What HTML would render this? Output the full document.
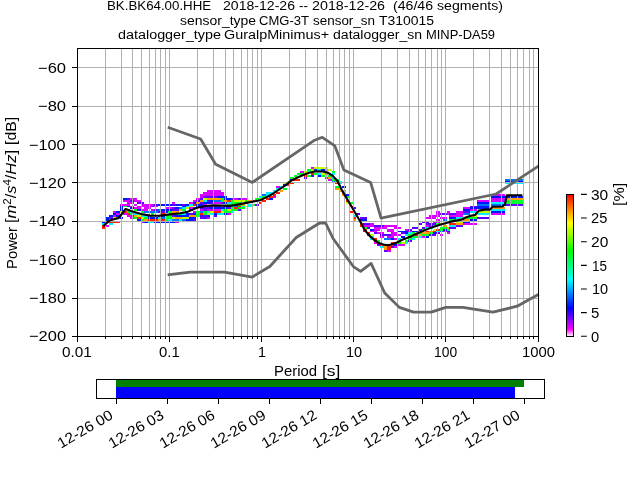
<!DOCTYPE html>
<html><head><meta charset="utf-8"><title>PPSD</title>
<style>html,body{margin:0;padding:0;background:#fff;width:640px;height:480px;overflow:hidden}
svg{display:block} text{font-family:"Liberation Sans",sans-serif;fill:#000}</style></head>
<body><svg style="will-change:transform" width="640" height="480" viewBox="0 0 640 480">
<rect width="640" height="480" fill="#fff"/>
<g shape-rendering="crispEdges"><rect x="123" y="198" width="4" height="2" fill="#0016ff"/><rect x="127" y="198" width="3" height="2" fill="#5e00ff"/><rect x="130" y="198" width="7" height="2" fill="#d900ff"/><rect x="196" y="198" width="4" height="2" fill="#d900ff"/><rect x="200" y="198" width="3" height="2" fill="#5e00ff"/><rect x="203" y="198" width="4" height="2" fill="#c8ff00"/><rect x="207" y="198" width="14" height="2" fill="#ffa000"/><rect x="221" y="198" width="3" height="2" fill="#00ff28"/><rect x="224" y="198" width="7" height="2" fill="#0016ff"/><rect x="231" y="198" width="3" height="2" fill="#5e00ff"/><rect x="234" y="198" width="4" height="2" fill="#d900ff"/><rect x="238" y="198" width="3" height="2" fill="#5e00ff"/><rect x="241" y="198" width="7" height="2" fill="#d900ff"/><rect x="255" y="198" width="4" height="2" fill="#00ff28"/><rect x="259" y="198" width="3" height="2" fill="#c8ff00"/><rect x="266" y="198" width="3" height="2" fill="#ff1e00"/><rect x="269" y="198" width="4" height="2" fill="#0016ff"/><rect x="123" y="200" width="7" height="2" fill="#d900ff"/><rect x="130" y="200" width="4" height="2" fill="#5e00ff"/><rect x="134" y="200" width="7" height="2" fill="#d900ff"/><rect x="193" y="200" width="3" height="2" fill="#d900ff"/><rect x="196" y="200" width="4" height="2" fill="#5e00ff"/><rect x="200" y="200" width="3" height="2" fill="#ffa000"/><rect x="203" y="200" width="4" height="2" fill="#00f0ff"/><rect x="207" y="200" width="3" height="2" fill="#5e00ff"/><rect x="210" y="200" width="4" height="2" fill="#0016ff"/><rect x="214" y="200" width="7" height="2" fill="#0073ff"/><rect x="221" y="200" width="3" height="2" fill="#00ff28"/><rect x="224" y="200" width="3" height="2" fill="#ffa000"/><rect x="227" y="200" width="4" height="2" fill="#ff1e00"/><rect x="231" y="200" width="3" height="2" fill="#00ff28"/><rect x="234" y="200" width="11" height="2" fill="#c8ff00"/><rect x="245" y="200" width="3" height="2" fill="#00ff28"/><rect x="248" y="200" width="4" height="2" fill="#ffa000"/><rect x="252" y="200" width="3" height="2" fill="#ff1e00"/><rect x="262" y="200" width="4" height="2" fill="#ff1e00"/><rect x="346" y="200" width="3" height="2" fill="#ff1e00"/><rect x="127" y="202" width="7" height="2" fill="#d900ff"/><rect x="137" y="202" width="7" height="2" fill="#5e00ff"/><rect x="172" y="202" width="3" height="2" fill="#d900ff"/><rect x="189" y="202" width="4" height="2" fill="#d900ff"/><rect x="193" y="202" width="3" height="2" fill="#0016ff"/><rect x="196" y="202" width="4" height="2" fill="#ffa000"/><rect x="200" y="202" width="3" height="2" fill="#5e00ff"/><rect x="203" y="202" width="7" height="2" fill="#0016ff"/><rect x="210" y="202" width="4" height="2" fill="#5e00ff"/><rect x="214" y="202" width="7" height="2" fill="#d900ff"/><rect x="221" y="202" width="3" height="2" fill="#5e00ff"/><rect x="224" y="202" width="3" height="2" fill="#0016ff"/><rect x="227" y="202" width="4" height="2" fill="#00f0ff"/><rect x="231" y="202" width="10" height="2" fill="#00ff28"/><rect x="259" y="202" width="3" height="2" fill="#ff1e00"/><rect x="346" y="202" width="3" height="2" fill="#c8ff00"/><rect x="349" y="202" width="4" height="2" fill="#00ff28"/><rect x="120" y="204" width="10" height="2" fill="#d900ff"/><rect x="134" y="204" width="3" height="2" fill="#d900ff"/><rect x="141" y="204" width="13" height="2" fill="#d900ff"/><rect x="154" y="204" width="4" height="2" fill="#5e00ff"/><rect x="158" y="204" width="14" height="2" fill="#0016ff"/><rect x="172" y="204" width="3" height="2" fill="#5e00ff"/><rect x="175" y="204" width="7" height="2" fill="#0016ff"/><rect x="182" y="204" width="4" height="2" fill="#5e00ff"/><rect x="186" y="204" width="3" height="2" fill="#0016ff"/><rect x="189" y="204" width="4" height="2" fill="#00f0ff"/><rect x="193" y="204" width="3" height="2" fill="#ff1e00"/><rect x="196" y="204" width="7" height="2" fill="#0016ff"/><rect x="203" y="204" width="4" height="2" fill="#d900ff"/><rect x="227" y="204" width="7" height="2" fill="#00ff28"/><rect x="234" y="204" width="4" height="2" fill="#0016ff"/><rect x="238" y="204" width="3" height="2" fill="#00ff28"/><rect x="241" y="204" width="4" height="2" fill="#ffa000"/><rect x="248" y="204" width="4" height="2" fill="#00f0ff"/><rect x="252" y="204" width="3" height="2" fill="#00ff28"/><rect x="255" y="204" width="4" height="2" fill="#5e00ff"/><rect x="120" y="206" width="3" height="1" fill="#0016ff"/><rect x="123" y="206" width="4" height="1" fill="#00ff28"/><rect x="127" y="206" width="3" height="1" fill="#0016ff"/><rect x="130" y="206" width="4" height="1" fill="#d900ff"/><rect x="137" y="206" width="14" height="1" fill="#d900ff"/><rect x="151" y="206" width="3" height="1" fill="#5e00ff"/><rect x="154" y="206" width="4" height="1" fill="#d900ff"/><rect x="182" y="206" width="4" height="1" fill="#0016ff"/><rect x="186" y="206" width="3" height="1" fill="#00f0ff"/><rect x="189" y="206" width="4" height="1" fill="#c8ff00"/><rect x="196" y="206" width="4" height="1" fill="#0016ff"/><rect x="207" y="206" width="14" height="1" fill="#d900ff"/><rect x="224" y="206" width="3" height="1" fill="#0016ff"/><rect x="227" y="206" width="4" height="1" fill="#5e00ff"/><rect x="231" y="206" width="3" height="1" fill="#00ff28"/><rect x="234" y="206" width="4" height="1" fill="#0073ff"/><rect x="238" y="206" width="3" height="1" fill="#ff1e00"/><rect x="241" y="206" width="4" height="1" fill="#00f0ff"/><rect x="245" y="206" width="3" height="1" fill="#c8ff00"/><rect x="248" y="206" width="4" height="1" fill="#00f0ff"/><rect x="349" y="206" width="4" height="1" fill="#ff1e00"/><rect x="120" y="207" width="3" height="2" fill="#0016ff"/><rect x="130" y="207" width="4" height="2" fill="#0016ff"/><rect x="134" y="207" width="7" height="2" fill="#d900ff"/><rect x="144" y="207" width="7" height="2" fill="#d900ff"/><rect x="165" y="207" width="7" height="2" fill="#d900ff"/><rect x="172" y="207" width="3" height="2" fill="#5e00ff"/><rect x="175" y="207" width="4" height="2" fill="#0016ff"/><rect x="179" y="207" width="3" height="2" fill="#0073ff"/><rect x="182" y="207" width="4" height="2" fill="#00f0ff"/><rect x="186" y="207" width="3" height="2" fill="#c8ff00"/><rect x="189" y="207" width="4" height="2" fill="#d900ff"/><rect x="193" y="207" width="3" height="2" fill="#0016ff"/><rect x="200" y="207" width="10" height="2" fill="#5e00ff"/><rect x="210" y="207" width="17" height="2" fill="#0016ff"/><rect x="227" y="207" width="4" height="2" fill="#5e00ff"/><rect x="231" y="207" width="3" height="2" fill="#00ff28"/><rect x="234" y="207" width="4" height="2" fill="#ff1e00"/><rect x="238" y="207" width="7" height="2" fill="#00ff28"/><rect x="353" y="207" width="3" height="2" fill="#5e00ff"/><rect x="120" y="209" width="3" height="2" fill="#0016ff"/><rect x="127" y="209" width="3" height="2" fill="#00ff28"/><rect x="134" y="209" width="3" height="2" fill="#00ff28"/><rect x="137" y="209" width="4" height="2" fill="#0016ff"/><rect x="141" y="209" width="7" height="2" fill="#d900ff"/><rect x="151" y="209" width="3" height="2" fill="#d900ff"/><rect x="154" y="209" width="4" height="2" fill="#5e00ff"/><rect x="158" y="209" width="3" height="2" fill="#0073ff"/><rect x="161" y="209" width="11" height="2" fill="#0016ff"/><rect x="172" y="209" width="7" height="2" fill="#5e00ff"/><rect x="179" y="209" width="3" height="2" fill="#ffa000"/><rect x="182" y="209" width="4" height="2" fill="#00ff28"/><rect x="189" y="209" width="4" height="2" fill="#0016ff"/><rect x="200" y="209" width="3" height="2" fill="#d900ff"/><rect x="203" y="209" width="4" height="2" fill="#5e00ff"/><rect x="207" y="209" width="14" height="2" fill="#d900ff"/><rect x="221" y="209" width="3" height="2" fill="#00f0ff"/><rect x="224" y="209" width="3" height="2" fill="#00ff28"/><rect x="227" y="209" width="4" height="2" fill="#c8ff00"/><rect x="231" y="209" width="7" height="2" fill="#00ff28"/><rect x="238" y="209" width="3" height="2" fill="#5e00ff"/><rect x="113" y="211" width="3" height="2" fill="#d900ff"/><rect x="116" y="211" width="4" height="2" fill="#0016ff"/><rect x="120" y="211" width="3" height="2" fill="#c8ff00"/><rect x="123" y="211" width="4" height="2" fill="#ff1e00"/><rect x="127" y="211" width="3" height="2" fill="#00ff28"/><rect x="130" y="211" width="4" height="2" fill="#00f0ff"/><rect x="141" y="211" width="3" height="2" fill="#00ff28"/><rect x="144" y="211" width="14" height="2" fill="#0073ff"/><rect x="158" y="211" width="7" height="2" fill="#5e00ff"/><rect x="165" y="211" width="3" height="2" fill="#0016ff"/><rect x="168" y="211" width="4" height="2" fill="#00ff28"/><rect x="172" y="211" width="7" height="2" fill="#ffa000"/><rect x="193" y="211" width="3" height="2" fill="#d900ff"/><rect x="196" y="211" width="4" height="2" fill="#00ff28"/><rect x="200" y="211" width="3" height="2" fill="#0073ff"/><rect x="203" y="211" width="4" height="2" fill="#00ff28"/><rect x="207" y="211" width="3" height="2" fill="#00f0ff"/><rect x="210" y="211" width="4" height="2" fill="#c8ff00"/><rect x="214" y="211" width="7" height="2" fill="#ff1e00"/><rect x="221" y="211" width="3" height="2" fill="#c8ff00"/><rect x="224" y="211" width="7" height="2" fill="#00ff28"/><rect x="231" y="211" width="3" height="2" fill="#00f0ff"/><rect x="349" y="211" width="4" height="2" fill="#ff1e00"/><rect x="436" y="211" width="4" height="2" fill="#d900ff"/><rect x="447" y="211" width="3" height="2" fill="#d900ff"/><rect x="113" y="213" width="3" height="2" fill="#0016ff"/><rect x="116" y="213" width="4" height="2" fill="#d900ff"/><rect x="123" y="213" width="4" height="2" fill="#d900ff"/><rect x="127" y="213" width="3" height="2" fill="#ff1e00"/><rect x="130" y="213" width="4" height="2" fill="#00ff28"/><rect x="134" y="213" width="7" height="2" fill="#00f0ff"/><rect x="151" y="213" width="3" height="2" fill="#00ff28"/><rect x="161" y="213" width="4" height="2" fill="#ff1e00"/><rect x="175" y="213" width="7" height="2" fill="#00ff28"/><rect x="182" y="213" width="4" height="2" fill="#00f0ff"/><rect x="186" y="213" width="3" height="2" fill="#0016ff"/><rect x="189" y="213" width="4" height="2" fill="#5e00ff"/><rect x="193" y="213" width="3" height="2" fill="#0016ff"/><rect x="196" y="213" width="4" height="2" fill="#00ff28"/><rect x="200" y="213" width="3" height="2" fill="#ff1e00"/><rect x="203" y="213" width="4" height="2" fill="#00ff28"/><rect x="207" y="213" width="3" height="2" fill="#c8ff00"/><rect x="210" y="213" width="4" height="2" fill="#00f0ff"/><rect x="214" y="213" width="3" height="2" fill="#0016ff"/><rect x="217" y="213" width="7" height="2" fill="#00f0ff"/><rect x="224" y="213" width="3" height="2" fill="#0016ff"/><rect x="227" y="213" width="4" height="2" fill="#d900ff"/><rect x="356" y="213" width="4" height="2" fill="#5e00ff"/><rect x="436" y="213" width="4" height="2" fill="#d900ff"/><rect x="440" y="213" width="7" height="2" fill="#5e00ff"/><rect x="447" y="213" width="3" height="2" fill="#d900ff"/><rect x="109" y="215" width="4" height="2" fill="#0016ff"/><rect x="113" y="215" width="3" height="2" fill="#d900ff"/><rect x="116" y="215" width="4" height="2" fill="#0016ff"/><rect x="127" y="215" width="7" height="2" fill="#d900ff"/><rect x="134" y="215" width="3" height="2" fill="#ffa000"/><rect x="137" y="215" width="4" height="2" fill="#c8ff00"/><rect x="141" y="215" width="7" height="2" fill="#00f0ff"/><rect x="148" y="215" width="3" height="2" fill="#0016ff"/><rect x="158" y="215" width="7" height="2" fill="#0016ff"/><rect x="165" y="215" width="7" height="2" fill="#00ff28"/><rect x="172" y="215" width="3" height="2" fill="#5e00ff"/><rect x="175" y="215" width="14" height="2" fill="#0016ff"/><rect x="189" y="215" width="7" height="2" fill="#ffa000"/><rect x="196" y="215" width="4" height="2" fill="#00ff28"/><rect x="200" y="215" width="7" height="2" fill="#5e00ff"/><rect x="207" y="215" width="3" height="2" fill="#0016ff"/><rect x="214" y="215" width="3" height="2" fill="#5e00ff"/><rect x="353" y="215" width="3" height="2" fill="#00f0ff"/><rect x="429" y="215" width="11" height="2" fill="#d900ff"/><rect x="106" y="217" width="3" height="2" fill="#0016ff"/><rect x="109" y="217" width="4" height="2" fill="#5e00ff"/><rect x="113" y="217" width="3" height="2" fill="#c8ff00"/><rect x="116" y="217" width="4" height="2" fill="#ffa000"/><rect x="120" y="217" width="3" height="2" fill="#0016ff"/><rect x="130" y="217" width="4" height="2" fill="#d900ff"/><rect x="134" y="217" width="3" height="2" fill="#00ff28"/><rect x="137" y="217" width="4" height="2" fill="#ff1e00"/><rect x="141" y="217" width="3" height="2" fill="#c8ff00"/><rect x="144" y="217" width="4" height="2" fill="#00ff28"/><rect x="148" y="217" width="10" height="2" fill="#0016ff"/><rect x="158" y="217" width="3" height="2" fill="#00f0ff"/><rect x="161" y="217" width="4" height="2" fill="#0073ff"/><rect x="165" y="217" width="7" height="2" fill="#00ff28"/><rect x="172" y="217" width="3" height="2" fill="#c8ff00"/><rect x="175" y="217" width="7" height="2" fill="#ffa000"/><rect x="182" y="217" width="7" height="2" fill="#c8ff00"/><rect x="189" y="217" width="7" height="2" fill="#0016ff"/><rect x="200" y="217" width="7" height="2" fill="#5e00ff"/><rect x="207" y="217" width="3" height="2" fill="#d900ff"/><rect x="353" y="217" width="3" height="2" fill="#ff1e00"/><rect x="360" y="217" width="7" height="2" fill="#5e00ff"/><rect x="426" y="217" width="10" height="2" fill="#d900ff"/><rect x="440" y="217" width="7" height="2" fill="#d900ff"/><rect x="106" y="219" width="3" height="2" fill="#0016ff"/><rect x="137" y="219" width="4" height="2" fill="#0016ff"/><rect x="141" y="219" width="3" height="2" fill="#00ff28"/><rect x="144" y="219" width="4" height="2" fill="#ffa000"/><rect x="148" y="219" width="10" height="2" fill="#ff1e00"/><rect x="158" y="219" width="3" height="2" fill="#ffa000"/><rect x="161" y="219" width="4" height="2" fill="#ff1e00"/><rect x="165" y="219" width="3" height="2" fill="#00ff28"/><rect x="168" y="219" width="4" height="2" fill="#00f0ff"/><rect x="172" y="219" width="7" height="2" fill="#0073ff"/><rect x="179" y="219" width="3" height="2" fill="#00f0ff"/><rect x="182" y="219" width="4" height="2" fill="#0073ff"/><rect x="186" y="219" width="7" height="2" fill="#0016ff"/><rect x="193" y="219" width="3" height="2" fill="#5e00ff"/><rect x="353" y="219" width="3" height="2" fill="#ffa000"/><rect x="360" y="219" width="7" height="2" fill="#0016ff"/><rect x="436" y="219" width="4" height="2" fill="#d900ff"/><rect x="443" y="219" width="4" height="2" fill="#0073ff"/><rect x="102" y="221" width="4" height="2" fill="#0016ff"/><rect x="109" y="221" width="11" height="2" fill="#ff1e00"/><rect x="141" y="221" width="3" height="2" fill="#d900ff"/><rect x="144" y="221" width="4" height="2" fill="#0016ff"/><rect x="148" y="221" width="6" height="2" fill="#00f0ff"/><rect x="154" y="221" width="21" height="2" fill="#0016ff"/><rect x="175" y="221" width="4" height="2" fill="#d900ff"/><rect x="422" y="221" width="7" height="2" fill="#5e00ff"/><rect x="433" y="221" width="7" height="2" fill="#d900ff"/><rect x="447" y="221" width="3" height="2" fill="#0016ff"/><rect x="102" y="223" width="4" height="2" fill="#00f0ff"/><rect x="109" y="223" width="4" height="2" fill="#00f0ff"/><rect x="360" y="223" width="3" height="2" fill="#ff1e00"/><rect x="363" y="223" width="7" height="2" fill="#5e00ff"/><rect x="370" y="223" width="4" height="2" fill="#d900ff"/><rect x="419" y="223" width="3" height="2" fill="#5e00ff"/><rect x="426" y="223" width="10" height="2" fill="#5e00ff"/><rect x="436" y="223" width="4" height="2" fill="#00ff28"/><rect x="440" y="223" width="3" height="2" fill="#c8ff00"/><rect x="102" y="225" width="4" height="2" fill="#ff1e00"/><rect x="106" y="225" width="3" height="2" fill="#d900ff"/><rect x="360" y="225" width="3" height="2" fill="#ff1e00"/><rect x="363" y="225" width="11" height="2" fill="#d900ff"/><rect x="374" y="225" width="10" height="2" fill="#5e00ff"/><rect x="384" y="225" width="14" height="2" fill="#d900ff"/><rect x="426" y="225" width="3" height="2" fill="#d900ff"/><rect x="429" y="225" width="4" height="2" fill="#5e00ff"/><rect x="433" y="225" width="3" height="2" fill="#00f0ff"/><rect x="443" y="225" width="4" height="2" fill="#ffa000"/><rect x="102" y="227" width="4" height="2" fill="#ff1e00"/><rect x="363" y="227" width="4" height="2" fill="#00ff28"/><rect x="367" y="227" width="3" height="2" fill="#5e00ff"/><rect x="374" y="227" width="13" height="2" fill="#d900ff"/><rect x="394" y="227" width="7" height="2" fill="#d900ff"/><rect x="412" y="227" width="7" height="2" fill="#5e00ff"/><rect x="422" y="227" width="4" height="2" fill="#5e00ff"/><rect x="426" y="227" width="7" height="2" fill="#00f0ff"/><rect x="440" y="227" width="7" height="2" fill="#00ff28"/><rect x="447" y="227" width="3" height="2" fill="#ffa000"/><rect x="207" y="190" width="14" height="2" fill="#d900ff"/><rect x="273" y="190" width="3" height="2" fill="#00f0ff"/><rect x="280" y="190" width="3" height="2" fill="#ffa000"/><rect x="339" y="190" width="7" height="2" fill="#ffa000"/><rect x="203" y="192" width="21" height="2" fill="#d900ff"/><rect x="266" y="192" width="7" height="2" fill="#00f0ff"/><rect x="276" y="192" width="4" height="2" fill="#ff1e00"/><rect x="342" y="192" width="4" height="2" fill="#ffa000"/><rect x="200" y="194" width="24" height="2" fill="#d900ff"/><rect x="262" y="194" width="4" height="2" fill="#0073ff"/><rect x="266" y="194" width="3" height="2" fill="#00f0ff"/><rect x="273" y="194" width="3" height="2" fill="#ff1e00"/><rect x="342" y="194" width="4" height="2" fill="#ffa000"/><rect x="346" y="194" width="3" height="2" fill="#0016ff"/><rect x="200" y="196" width="3" height="2" fill="#d900ff"/><rect x="203" y="196" width="14" height="2" fill="#5e00ff"/><rect x="217" y="196" width="10" height="2" fill="#0016ff"/><rect x="259" y="196" width="3" height="2" fill="#00f0ff"/><rect x="262" y="196" width="4" height="2" fill="#00ff28"/><rect x="269" y="196" width="4" height="2" fill="#ff1e00"/><rect x="273" y="196" width="3" height="2" fill="#d900ff"/><rect x="346" y="196" width="3" height="2" fill="#00ff28"/><rect x="276" y="186" width="4" height="2" fill="#d900ff"/><rect x="280" y="186" width="3" height="2" fill="#00f0ff"/><rect x="335" y="186" width="4" height="2" fill="#00ff28"/><rect x="342" y="186" width="4" height="2" fill="#0016ff"/><rect x="276" y="188" width="4" height="2" fill="#00f0ff"/><rect x="283" y="188" width="4" height="2" fill="#00ff28"/><rect x="335" y="188" width="4" height="2" fill="#ffa000"/><rect x="339" y="188" width="3" height="2" fill="#00ff28"/><rect x="283" y="182" width="4" height="2" fill="#c8ff00"/><rect x="290" y="182" width="4" height="2" fill="#ff1e00"/><rect x="335" y="182" width="4" height="2" fill="#ff1e00"/><rect x="339" y="182" width="3" height="2" fill="#00f0ff"/><rect x="283" y="184" width="4" height="2" fill="#0016ff"/><rect x="287" y="184" width="3" height="2" fill="#ff1e00"/><rect x="287" y="181" width="3" height="1" fill="#c8ff00"/><rect x="332" y="181" width="3" height="1" fill="#0073ff"/><rect x="335" y="181" width="4" height="1" fill="#00ff28"/><rect x="339" y="181" width="3" height="1" fill="#00f0ff"/><rect x="290" y="177" width="4" height="2" fill="#00ff28"/><rect x="304" y="177" width="3" height="2" fill="#5e00ff"/><rect x="325" y="177" width="3" height="2" fill="#d900ff"/><rect x="328" y="177" width="4" height="2" fill="#ffa000"/><rect x="332" y="177" width="3" height="2" fill="#00f0ff"/><rect x="290" y="179" width="4" height="2" fill="#0016ff"/><rect x="294" y="179" width="6" height="2" fill="#ff1e00"/><rect x="328" y="179" width="4" height="2" fill="#d900ff"/><rect x="332" y="179" width="7" height="2" fill="#00ff28"/><rect x="294" y="175" width="3" height="2" fill="#00ff28"/><rect x="304" y="175" width="3" height="2" fill="#ff1e00"/><rect x="307" y="175" width="4" height="2" fill="#00ff28"/><rect x="311" y="175" width="3" height="2" fill="#0016ff"/><rect x="318" y="175" width="3" height="2" fill="#0016ff"/><rect x="321" y="175" width="4" height="2" fill="#00ff28"/><rect x="325" y="175" width="3" height="2" fill="#c8ff00"/><rect x="328" y="175" width="4" height="2" fill="#00ff28"/><rect x="297" y="173" width="7" height="2" fill="#00ff28"/><rect x="311" y="173" width="3" height="2" fill="#ff1e00"/><rect x="314" y="173" width="4" height="2" fill="#00ff28"/><rect x="318" y="173" width="3" height="2" fill="#00f0ff"/><rect x="321" y="173" width="4" height="2" fill="#c8ff00"/><rect x="325" y="173" width="3" height="2" fill="#00ff28"/><rect x="332" y="173" width="3" height="2" fill="#00f0ff"/><rect x="300" y="171" width="4" height="2" fill="#d900ff"/><rect x="304" y="171" width="3" height="2" fill="#c8ff00"/><rect x="307" y="171" width="4" height="2" fill="#00f0ff"/><rect x="332" y="171" width="3" height="2" fill="#00ff28"/><rect x="307" y="169" width="4" height="2" fill="#00ff28"/><rect x="311" y="169" width="3" height="2" fill="#c8ff00"/><rect x="314" y="169" width="4" height="2" fill="#0016ff"/><rect x="318" y="169" width="3" height="2" fill="#00f0ff"/><rect x="321" y="169" width="4" height="2" fill="#0016ff"/><rect x="325" y="169" width="3" height="2" fill="#00f0ff"/><rect x="328" y="169" width="4" height="2" fill="#c8ff00"/><rect x="311" y="167" width="3" height="2" fill="#d900ff"/><rect x="314" y="167" width="14" height="2" fill="#c8ff00"/><rect x="363" y="229" width="4" height="2" fill="#ff1e00"/><rect x="370" y="229" width="4" height="2" fill="#0016ff"/><rect x="374" y="229" width="6" height="2" fill="#d900ff"/><rect x="387" y="229" width="7" height="2" fill="#d900ff"/><rect x="405" y="229" width="3" height="2" fill="#d900ff"/><rect x="408" y="229" width="4" height="2" fill="#5e00ff"/><rect x="419" y="229" width="3" height="2" fill="#5e00ff"/><rect x="422" y="229" width="4" height="2" fill="#00ff28"/><rect x="433" y="229" width="3" height="2" fill="#c8ff00"/><rect x="436" y="229" width="4" height="2" fill="#ff1e00"/><rect x="440" y="229" width="3" height="2" fill="#00ff28"/><rect x="443" y="229" width="4" height="2" fill="#0016ff"/><rect x="447" y="229" width="3" height="2" fill="#00ff28"/><rect x="363" y="231" width="4" height="1" fill="#ff1e00"/><rect x="370" y="231" width="7" height="1" fill="#d900ff"/><rect x="387" y="231" width="7" height="1" fill="#d900ff"/><rect x="398" y="231" width="10" height="1" fill="#0016ff"/><rect x="408" y="231" width="4" height="1" fill="#d900ff"/><rect x="412" y="231" width="7" height="1" fill="#0016ff"/><rect x="426" y="231" width="3" height="1" fill="#ff1e00"/><rect x="429" y="231" width="4" height="1" fill="#ffa000"/><rect x="433" y="231" width="3" height="1" fill="#ff1e00"/><rect x="436" y="231" width="4" height="1" fill="#00f0ff"/><rect x="440" y="231" width="3" height="1" fill="#0073ff"/><rect x="443" y="231" width="4" height="1" fill="#d900ff"/><rect x="447" y="231" width="3" height="1" fill="#0016ff"/><rect x="367" y="232" width="3" height="2" fill="#ff1e00"/><rect x="374" y="232" width="3" height="2" fill="#5e00ff"/><rect x="377" y="232" width="7" height="2" fill="#d900ff"/><rect x="391" y="232" width="7" height="2" fill="#d900ff"/><rect x="401" y="232" width="4" height="2" fill="#5e00ff"/><rect x="405" y="232" width="3" height="2" fill="#0016ff"/><rect x="408" y="232" width="4" height="2" fill="#00f0ff"/><rect x="412" y="232" width="3" height="2" fill="#00ff28"/><rect x="419" y="232" width="3" height="2" fill="#00ff28"/><rect x="422" y="232" width="7" height="2" fill="#ffa000"/><rect x="429" y="232" width="4" height="2" fill="#00ff28"/><rect x="433" y="232" width="3" height="2" fill="#0016ff"/><rect x="436" y="232" width="4" height="2" fill="#5e00ff"/><rect x="447" y="232" width="3" height="2" fill="#d900ff"/><rect x="367" y="234" width="3" height="2" fill="#ff1e00"/><rect x="370" y="234" width="4" height="2" fill="#c8ff00"/><rect x="380" y="234" width="11" height="2" fill="#5e00ff"/><rect x="391" y="234" width="10" height="2" fill="#d900ff"/><rect x="405" y="234" width="3" height="2" fill="#00f0ff"/><rect x="408" y="234" width="4" height="2" fill="#00ff28"/><rect x="415" y="234" width="4" height="2" fill="#ff1e00"/><rect x="419" y="234" width="3" height="2" fill="#ffa000"/><rect x="422" y="234" width="7" height="2" fill="#00ff28"/><rect x="429" y="234" width="7" height="2" fill="#5e00ff"/><rect x="440" y="234" width="3" height="2" fill="#d900ff"/><rect x="370" y="236" width="4" height="2" fill="#00f0ff"/><rect x="380" y="236" width="4" height="2" fill="#d900ff"/><rect x="387" y="236" width="7" height="2" fill="#d900ff"/><rect x="401" y="236" width="4" height="2" fill="#0016ff"/><rect x="408" y="236" width="4" height="2" fill="#ff1e00"/><rect x="412" y="236" width="7" height="2" fill="#00ff28"/><rect x="419" y="236" width="3" height="2" fill="#00f0ff"/><rect x="422" y="236" width="4" height="2" fill="#d900ff"/><rect x="426" y="236" width="3" height="2" fill="#0016ff"/><rect x="370" y="238" width="4" height="2" fill="#00f0ff"/><rect x="374" y="238" width="3" height="2" fill="#ff1e00"/><rect x="384" y="238" width="7" height="2" fill="#0073ff"/><rect x="391" y="238" width="3" height="2" fill="#0016ff"/><rect x="394" y="238" width="4" height="2" fill="#d900ff"/><rect x="398" y="238" width="3" height="2" fill="#00f0ff"/><rect x="408" y="238" width="4" height="2" fill="#00ff28"/><rect x="412" y="238" width="3" height="2" fill="#00f0ff"/><rect x="374" y="240" width="3" height="2" fill="#ff1e00"/><rect x="377" y="240" width="3" height="2" fill="#00ff28"/><rect x="405" y="240" width="3" height="2" fill="#00ff28"/><rect x="408" y="240" width="4" height="2" fill="#5e00ff"/><rect x="374" y="242" width="3" height="2" fill="#d900ff"/><rect x="377" y="242" width="3" height="2" fill="#ff1e00"/><rect x="391" y="242" width="7" height="2" fill="#ff1e00"/><rect x="398" y="242" width="3" height="2" fill="#00ff28"/><rect x="401" y="242" width="4" height="2" fill="#c8ff00"/><rect x="405" y="242" width="3" height="2" fill="#00f0ff"/><rect x="377" y="244" width="3" height="2" fill="#5e00ff"/><rect x="380" y="244" width="7" height="2" fill="#ff1e00"/><rect x="387" y="244" width="4" height="2" fill="#ffa000"/><rect x="391" y="244" width="3" height="2" fill="#ff1e00"/><rect x="394" y="244" width="4" height="2" fill="#0016ff"/><rect x="398" y="244" width="7" height="2" fill="#d900ff"/><rect x="380" y="246" width="4" height="2" fill="#00f0ff"/><rect x="384" y="246" width="3" height="2" fill="#ffa000"/><rect x="387" y="246" width="4" height="2" fill="#ff1e00"/><rect x="391" y="246" width="3" height="2" fill="#5e00ff"/><rect x="394" y="246" width="4" height="2" fill="#d900ff"/><rect x="384" y="248" width="3" height="2" fill="#ffa000"/><rect x="387" y="248" width="4" height="2" fill="#ff1e00"/><rect x="384" y="250" width="3" height="2" fill="#5e00ff"/><rect x="387" y="250" width="4" height="2" fill="#d900ff"/><rect x="449" y="213" width="7" height="2" fill="#5e00ff"/><rect x="449" y="215" width="7" height="2" fill="#d900ff"/><rect x="449" y="217" width="7" height="2" fill="#0016ff"/><rect x="449" y="219" width="7" height="2" fill="#00ff28"/><rect x="449" y="223" width="7" height="2" fill="#ff1e00"/><rect x="449" y="225" width="7" height="2" fill="#00f0ff"/><rect x="449" y="227" width="7" height="2" fill="#5e00ff"/><rect x="456" y="211" width="7" height="2" fill="#d900ff"/><rect x="456" y="213" width="7" height="2" fill="#d900ff"/><rect x="456" y="215" width="7" height="2" fill="#d900ff"/><rect x="456" y="217" width="7" height="2" fill="#00f0ff"/><rect x="456" y="221" width="7" height="2" fill="#c8ff00"/><rect x="456" y="223" width="7" height="2" fill="#ffa000"/><rect x="456" y="225" width="7" height="2" fill="#5e00ff"/><rect x="463" y="207" width="7" height="2" fill="#d900ff"/><rect x="463" y="209" width="7" height="2" fill="#0016ff"/><rect x="463" y="211" width="7" height="2" fill="#5e00ff"/><rect x="463" y="213" width="7" height="2" fill="#0073ff"/><rect x="463" y="217" width="7" height="2" fill="#00ff28"/><rect x="463" y="219" width="7" height="2" fill="#ffa000"/><rect x="463" y="221" width="7" height="2" fill="#0016ff"/><rect x="463" y="223" width="7" height="2" fill="#d900ff"/><rect x="470" y="206" width="7" height="1" fill="#5e00ff"/><rect x="470" y="207" width="7" height="2" fill="#0016ff"/><rect x="470" y="209" width="7" height="2" fill="#d900ff"/><rect x="470" y="211" width="7" height="2" fill="#00f0ff"/><rect x="470" y="215" width="7" height="2" fill="#c8ff00"/><rect x="470" y="217" width="7" height="2" fill="#00ff28"/><rect x="470" y="219" width="7" height="2" fill="#0016ff"/><rect x="470" y="223" width="7" height="2" fill="#d900ff"/><rect x="477" y="200" width="13" height="2" fill="#d900ff"/><rect x="477" y="202" width="13" height="2" fill="#0016ff"/><rect x="477" y="204" width="13" height="2" fill="#0073ff"/><rect x="477" y="206" width="13" height="1" fill="#0016ff"/><rect x="477" y="207" width="13" height="2" fill="#0016ff"/><rect x="477" y="211" width="13" height="2" fill="#c8ff00"/><rect x="477" y="213" width="13" height="2" fill="#00f0ff"/><rect x="477" y="217" width="13" height="2" fill="#5e00ff"/><rect x="491" y="194" width="14" height="2" fill="#d900ff"/><rect x="491" y="196" width="14" height="2" fill="#0016ff"/><rect x="491" y="198" width="14" height="2" fill="#d900ff"/><rect x="491" y="200" width="14" height="2" fill="#d900ff"/><rect x="491" y="202" width="14" height="2" fill="#00f0ff"/><rect x="491" y="204" width="14" height="2" fill="#0073ff"/><rect x="491" y="207" width="14" height="2" fill="#ffa000"/><rect x="491" y="209" width="14" height="2" fill="#00f0ff"/><rect x="491" y="211" width="14" height="2" fill="#0016ff"/><rect x="491" y="213" width="14" height="2" fill="#d900ff"/><rect x="505" y="179" width="18" height="2" fill="#0073ff"/><rect x="505" y="181" width="18" height="1" fill="#0016ff"/><rect x="505" y="182" width="18" height="2" fill="#00f0ff"/><rect x="505" y="196" width="18" height="2" fill="#0016ff"/><rect x="505" y="198" width="18" height="2" fill="#ffa000"/><rect x="505" y="200" width="18" height="2" fill="#00ff28"/><rect x="505" y="202" width="18" height="2" fill="#00ff28"/><rect x="505" y="204" width="18" height="2" fill="#5e00ff"/></g>
<g shape-rendering="crispEdges"><path d="M105.5 49V336M121.5 49V336M132.5 49V336M141.5 49V336M149.5 49V336M155.5 49V336M160.5 49V336M165.5 49V336M169.5 49V336M197.5 49V336M213.5 49V336M225.5 49V336M233.5 49V336M241.5 49V336M247.5 49V336M252.5 49V336M257.5 49V336M261.5 49V336M289.5 49V336M305.5 49V336M317.5 49V336M326.5 49V336M333.5 49V336M339.5 49V336M344.5 49V336M349.5 49V336M353.5 49V336M381.5 49V336M397.5 49V336M409.5 49V336M418.5 49V336M425.5 49V336M431.5 49V336M437.5 49V336M441.5 49V336M445.5 49V336M473.5 49V336M489.5 49V336M501.5 49V336M510.5 49V336M517.5 49V336M523.5 49V336M529.5 49V336M533.5 49V336M78 67.5H538M78 106.5H538M78 144.5H538M78 182.5H538M78 221.5H538M78 259.5H538M78 298.5H538" stroke="#b0b0b0" stroke-width="1" fill="none"/></g>
<polyline points="103.75,225.60 109.40,220.60 118.75,217.90 125.60,209.00 132.50,211.50 141.25,214.00 150.00,215.60 158.75,215.80 170.00,214.40 180.00,213.20 187.50,211.90 196.25,208.10 205.00,206.00 213.75,205.40 221.25,205.60 230.00,205.90 237.50,204.60 246.25,202.90 255.00,201.25 260.00,200.20 266.25,197.40 272.50,194.00 278.75,189.75 285.00,185.60 291.25,180.60 297.50,177.50 303.75,174.75 310.00,172.50 316.25,171.25 322.50,171.50 327.50,172.50 332.50,175.60 337.50,181.00 342.30,190.90 349.60,203.30 356.90,215.70 360.00,221.10 364.70,230.00 369.40,235.60 374.00,239.80 378.75,243.10 383.40,244.50 388.10,245.20 392.80,244.10 397.50,242.20 402.20,239.80 406.90,238.00 411.50,236.10 416.20,233.75 420.00,232.30 430.00,228.10 440.00,224.75 450.00,221.90 462.50,219.40 465.00,217.75 470.00,215.90 475.00,215.00 478.75,210.60 485.00,209.60 490.00,209.60 492.50,206.80 502.50,206.50 505.00,204.20 506.70,195.40 521.50,195.25" fill="none" stroke="#000" stroke-width="2.1" stroke-linejoin="round" stroke-linecap="round"/>
<polyline points="169.08,127.71 200.63,139.05 215.62,164.21 252.28,182.47 314.63,140.19 322.27,137.31 334.85,145.96 343.91,169.97 370.62,182.48 381.07,218.02 496.14,194.01 537.60,166.66" fill="none" stroke="#666" stroke-width="2.78" stroke-linejoin="round" stroke-linecap="square"/><polyline points="169.08,274.71 190.31,272.21 224.55,272.21 252.28,277.02 269.82,266.44 296.24,237.52 319.57,223.02 325.61,223.01 332.90,238.20 353.34,266.54 360.63,271.34 371.13,263.43 384.71,292.97 399.38,307.37 413.52,312.18 431.20,312.18 445.87,307.38 462.75,307.35 493.00,312.16 517.16,306.19 537.60,294.85" fill="none" stroke="#666" stroke-width="2.78" stroke-linejoin="round" stroke-linecap="square"/>
<g shape-rendering="crispEdges"><path d="M77.5 48V337M538.5 48V337M77 48.5H539M77 336.5H539M77.5 336V341.5M105.5 336V339.3M121.5 336V339.3M132.5 336V339.3M141.5 336V339.3M149.5 336V339.3M155.5 336V339.3M160.5 336V339.3M165.5 336V339.3M169.5 336V341.5M197.5 336V339.3M213.5 336V339.3M225.5 336V339.3M233.5 336V339.3M241.5 336V339.3M247.5 336V339.3M252.5 336V339.3M257.5 336V339.3M261.5 336V341.5M289.5 336V339.3M305.5 336V339.3M317.5 336V339.3M326.5 336V339.3M333.5 336V339.3M339.5 336V339.3M344.5 336V339.3M349.5 336V339.3M353.5 336V341.5M381.5 336V339.3M397.5 336V339.3M409.5 336V339.3M418.5 336V339.3M425.5 336V339.3M431.5 336V339.3M437.5 336V339.3M441.5 336V339.3M445.5 336V341.5M473.5 336V339.3M489.5 336V339.3M501.5 336V339.3M510.5 336V339.3M517.5 336V339.3M523.5 336V339.3M529.5 336V339.3M533.5 336V339.3M538.5 336V341.5M72.2 67.5H77M72.2 106.5H77M72.2 144.5H77M72.2 182.5H77M72.2 221.5H77M72.2 259.5H77M72.2 298.5H77M72.2 336.5H77" stroke="#000" stroke-width="1" fill="none"/></g>
<defs><linearGradient id="pq" x1="0" y1="1" x2="0" y2="0"><stop offset="0" stop-color="#fff"/><stop offset="0.05" stop-color="#f0f"/><stop offset="0.2" stop-color="#00f"/><stop offset="0.4" stop-color="#0ff"/><stop offset="0.6" stop-color="#0f0"/><stop offset="0.8" stop-color="#ff0"/><stop offset="1" stop-color="#f00"/></linearGradient></defs><rect x="566.5" y="194.5" width="7" height="142" fill="url(#pq)" stroke="#000" stroke-width="1"/><path d="M581 336.30H586.8M581 312.65H586.8M581 289.00H586.8M581 265.35H586.8M581 241.70H586.8M581 218.05H586.8M581 194.40H586.8" stroke="#000" stroke-width="1.11"/>
<g shape-rendering="crispEdges"><rect x="116" y="380" width="408" height="7" fill="#008000"/><rect x="116" y="387" width="399" height="11" fill="#0000ff"/><rect x="96.5" y="379.5" width="448" height="19" fill="none" stroke="#000" stroke-width="1"/><path d="M116.5 398V403.5M167.5 398V403.5M218.5 398V403.5M269.5 398V403.5M320.5 398V403.5M371.5 398V403.5M422.5 398V403.5M473.5 398V403.5M524.5 398V403.5" stroke="#000" stroke-width="1"/></g>
<text x="107.00" y="10.00" font-size="13.25" textLength="104.16" lengthAdjust="spacingAndGlyphs" xml:space="preserve">BK.BK64.00.HHE</text><text x="223.00" y="10.00" font-size="13.25" textLength="72.00" lengthAdjust="spacingAndGlyphs" xml:space="preserve">2018-12-26</text><text x="299.00" y="10.00" font-size="13.25" textLength="9.00" lengthAdjust="spacingAndGlyphs" xml:space="preserve">--</text><text x="312.00" y="10.00" font-size="13.25" textLength="73.06" lengthAdjust="spacingAndGlyphs" xml:space="preserve">2018-12-26</text><text x="393.00" y="10.00" font-size="13.25" textLength="40.05" lengthAdjust="spacingAndGlyphs" xml:space="preserve">(46/46</text><text x="437.00" y="10.00" font-size="13.25" textLength="66.06" lengthAdjust="spacingAndGlyphs" xml:space="preserve">segments)</text><text x="180.00" y="24.80" font-size="13.25" textLength="76.04" lengthAdjust="spacingAndGlyphs" xml:space="preserve">sensor_type</text><text x="259.00" y="24.80" font-size="13.25" textLength="50.02" lengthAdjust="spacingAndGlyphs" xml:space="preserve">CMG-3T</text><text x="313.00" y="24.80" font-size="13.25" textLength="62.03" lengthAdjust="spacingAndGlyphs" xml:space="preserve">sensor_sn</text><text x="379.00" y="24.80" font-size="13.25" textLength="55.02" lengthAdjust="spacingAndGlyphs" xml:space="preserve">T310015</text><text x="118.00" y="38.50" font-size="13.25" textLength="103.03" lengthAdjust="spacingAndGlyphs" xml:space="preserve">datalogger_type</text><text x="224.00" y="38.50" font-size="13.25" textLength="105.06" lengthAdjust="spacingAndGlyphs" xml:space="preserve">GuralpMinimus+</text><text x="333.00" y="38.50" font-size="13.25" textLength="89.05" lengthAdjust="spacingAndGlyphs" xml:space="preserve">datalogger_sn</text><text x="426.00" y="38.50" font-size="13.25" textLength="69.03" lengthAdjust="spacingAndGlyphs" xml:space="preserve">MINP-DA59</text><text x="38.00" y="72.50" font-size="14.72" textLength="28.08" lengthAdjust="spacingAndGlyphs" xml:space="preserve">−60</text><text x="38.00" y="110.50" font-size="14.72" textLength="28.08" lengthAdjust="spacingAndGlyphs" xml:space="preserve">−80</text><text x="29.00" y="149.50" font-size="14.72" textLength="36.65" lengthAdjust="spacingAndGlyphs" xml:space="preserve">−100</text><text x="29.00" y="187.50" font-size="14.72" textLength="37.09" lengthAdjust="spacingAndGlyphs" xml:space="preserve">−120</text><text x="29.00" y="225.50" font-size="14.72" textLength="36.65" lengthAdjust="spacingAndGlyphs" xml:space="preserve">−140</text><text x="29.00" y="264.50" font-size="14.72" textLength="37.09" lengthAdjust="spacingAndGlyphs" xml:space="preserve">−160</text><text x="29.00" y="302.50" font-size="14.72" textLength="37.09" lengthAdjust="spacingAndGlyphs" xml:space="preserve">−180</text><text x="29.00" y="340.50" font-size="14.72" textLength="37.09" lengthAdjust="spacingAndGlyphs" xml:space="preserve">−200</text><text x="62.00" y="357.00" font-size="14.72" textLength="29.87" lengthAdjust="spacingAndGlyphs" xml:space="preserve">0.01</text><text x="159.00" y="357.00" font-size="14.72" textLength="20.73" lengthAdjust="spacingAndGlyphs" xml:space="preserve">0.1</text><text x="258.00" y="357.00" font-size="14.72" textLength="8.00" lengthAdjust="spacingAndGlyphs" xml:space="preserve">1</text><text x="346.00" y="357.00" font-size="14.72" textLength="16.08" lengthAdjust="spacingAndGlyphs" xml:space="preserve">10</text><text x="434.00" y="357.00" font-size="14.72" textLength="23.10" lengthAdjust="spacingAndGlyphs" xml:space="preserve">100</text><text x="522.00" y="357.00" font-size="14.72" textLength="33.07" lengthAdjust="spacingAndGlyphs" xml:space="preserve">1000</text><text x="274.00" y="376.00" font-size="14.72" textLength="43.10" lengthAdjust="spacingAndGlyphs" xml:space="preserve">Period</text><text x="322.00" y="376.00" font-size="14.72" textLength="18.29" lengthAdjust="spacingAndGlyphs" xml:space="preserve">[s]</text><text x="591.00" y="342.30" font-size="14.72" textLength="8.17" lengthAdjust="spacingAndGlyphs" xml:space="preserve">0</text><text x="591.00" y="317.65" font-size="14.72" textLength="8.34" lengthAdjust="spacingAndGlyphs" xml:space="preserve">5</text><text x="592.00" y="294.00" font-size="14.72" textLength="16.15" lengthAdjust="spacingAndGlyphs" xml:space="preserve">10</text><text x="592.00" y="271.35" font-size="14.72" textLength="15.00" lengthAdjust="spacingAndGlyphs" xml:space="preserve">15</text><text x="591.00" y="246.70" font-size="14.72" textLength="17.28" lengthAdjust="spacingAndGlyphs" xml:space="preserve">20</text><text x="591.00" y="223.05" font-size="14.72" textLength="16.30" lengthAdjust="spacingAndGlyphs" xml:space="preserve">25</text><text x="591.00" y="200.40" font-size="14.72" textLength="17.22" lengthAdjust="spacingAndGlyphs" xml:space="preserve">30</text><text x="624.00" y="206.00" font-size="14.72" textLength="23.33" lengthAdjust="spacingAndGlyphs" transform="rotate(-90 624.00 206.00)" xml:space="preserve">[%]</text><text x="114.00" y="418.00" font-size="14.72" text-anchor="end" textLength="61.25" lengthAdjust="spacingAndGlyphs" transform="rotate(-30 114.00 418.00)" xml:space="preserve">12-26 00</text><text x="165.00" y="418.00" font-size="14.72" text-anchor="end" textLength="61.25" lengthAdjust="spacingAndGlyphs" transform="rotate(-30 165.00 418.00)" xml:space="preserve">12-26 03</text><text x="216.00" y="418.00" font-size="14.72" text-anchor="end" textLength="61.25" lengthAdjust="spacingAndGlyphs" transform="rotate(-30 216.00 418.00)" xml:space="preserve">12-26 06</text><text x="267.00" y="418.00" font-size="14.72" text-anchor="end" textLength="61.25" lengthAdjust="spacingAndGlyphs" transform="rotate(-30 267.00 418.00)" xml:space="preserve">12-26 09</text><text x="318.00" y="418.00" font-size="14.72" text-anchor="end" textLength="61.25" lengthAdjust="spacingAndGlyphs" transform="rotate(-30 318.00 418.00)" xml:space="preserve">12-26 12</text><text x="369.00" y="418.00" font-size="14.72" text-anchor="end" textLength="61.25" lengthAdjust="spacingAndGlyphs" transform="rotate(-30 369.00 418.00)" xml:space="preserve">12-26 15</text><text x="420.00" y="418.00" font-size="14.72" text-anchor="end" textLength="61.25" lengthAdjust="spacingAndGlyphs" transform="rotate(-30 420.00 418.00)" xml:space="preserve">12-26 18</text><text x="471.00" y="418.00" font-size="14.72" text-anchor="end" textLength="61.25" lengthAdjust="spacingAndGlyphs" transform="rotate(-30 471.00 418.00)" xml:space="preserve">12-26 21</text><text x="521.00" y="418.00" font-size="14.72" text-anchor="end" textLength="61.25" lengthAdjust="spacingAndGlyphs" transform="rotate(-30 521.00 418.00)" xml:space="preserve">12-27 00</text><text x="17.00" y="269.00" font-size="14.72" textLength="42.02" lengthAdjust="spacingAndGlyphs" transform="rotate(-90 17.00 269.00)" xml:space="preserve">Power</text><text x="16.00" y="223.00" font-size="14.72" textLength="73.03" lengthAdjust="spacingAndGlyphs" transform="rotate(-90 16.00 223.00)" xml:space="preserve">[<tspan font-style="italic">m</tspan><tspan dy="-5" font-size="10.3">2</tspan><tspan dy="5">/</tspan><tspan font-style="italic">s</tspan><tspan dy="-5" font-size="10.3">4</tspan><tspan dy="5">/</tspan><tspan font-style="italic">Hz</tspan>]</text><text x="16.00" y="145.00" font-size="14.72" textLength="28.08" lengthAdjust="spacingAndGlyphs" transform="rotate(-90 16.00 145.00)" xml:space="preserve">[dB]</text>
</svg></body></html>
